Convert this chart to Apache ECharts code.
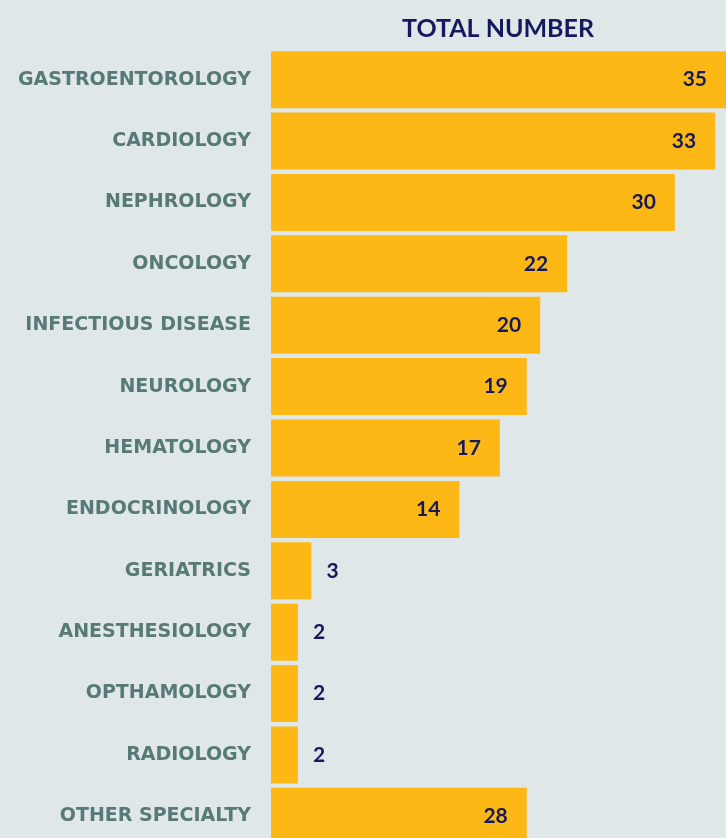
<!DOCTYPE html>
<html>
<head>
<meta charset="utf-8">
<style>
html,body{margin:0;padding:0;background:#dfe7e9;}
#chart{width:726px;height:838px;}
</style>
<script src="https://cdn.jsdelivr.net/npm/echarts@6/dist/echarts.min.js"></script>
</head>
<body>
<div id="chart"></div>
<script>
var titleText = 'TOTAL NUMBER';
var categories = ['GASTROENTOROLOGY','CARDIOLOGY','NEPHROLOGY','ONCOLOGY','INFECTIOUS DISEASE','NEUROLOGY','HEMATOLOGY','ENDOCRINOLOGY','GERIATRICS','ANESTHESIOLOGY','OPTHAMOLOGY','RADIOLOGY','OTHER SPECIALTY'];
// bar lengths as drawn in the picture
var barValues = [35,33,30,22,20,19,17,14,3,2,2,2,19];
// value labels as printed in the picture
var valueLabels = [35,33,30,22,20,19,17,14,3,2,2,2,28];

var chart = echarts.init(document.getElementById('chart'), null, {renderer:'canvas'});
var data = barValues.map(function(v, i){
  var small = v < 5;
  return {
    value: v,
    label: {
      show: true,
      position: small ? 'right' : 'insideRight',
      distance: small ? 15 : 19,
      formatter: String(valueLabels[i])
    }
  };
});
chart.setOption({
  backgroundColor: '#dfe7e9',
  animation: false,
  title: {
    text: titleText,
    left: 493, top: 11, textAlign: 'center',
    textStyle: {color:'#141a5c', fontFamily:'Lato', fontWeight:'bold', fontSize:25}
  },
  grid: {left: 271, width: 455, top: 49, height: 798, containLabel: false, outerBoundsMode: 'none'},
  xAxis: {
    type: 'value', min: 0, max: 33.8,
    show: false
  },
  yAxis: {
    type: 'category', inverse: true, data: categories,
    axisLine: {show:false}, axisTick: {show:false},
    axisLabel: {
      margin: 20, color: '#587a77', fontFamily: 'DejaVu Sans', fontWeight: 'bold', fontSize: 19,
      padding: [7, 0, 0, 0]
    }
  },
  series: [{
    type: 'bar',
    data: data,
    barWidth: 57,
    clip: true,
    itemStyle: {color: '#fdb815'},
    label: {color:'#141a5c', fontFamily:'Lato', fontWeight:'bold', fontSize:21}
  }]
});
</script>
</body>
</html>
